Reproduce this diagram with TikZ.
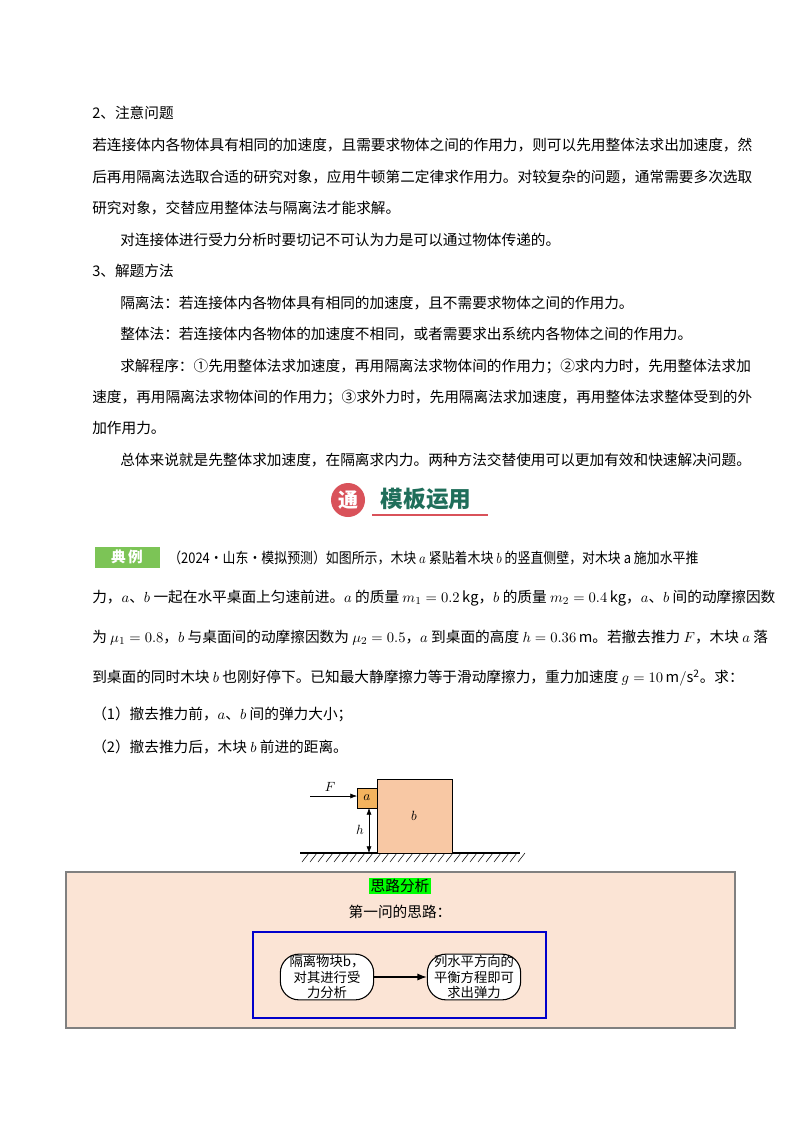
\documentclass[tikz,border=0pt]{standalone}
\usepackage{fontspec}
\setmainfont{Noto Sans CJK SC}
\usepackage{amsmath}
\usetikzlibrary{positioning,patterns,arrows.meta}
\definecolor{peach}{HTML}{FBE4D5}
\definecolor{blockb}{HTML}{F8C8A4}
\definecolor{blocka}{HTML}{F3B35E}
\definecolor{bannerred}{HTML}{D9525A}
\definecolor{bannergreen}{HTML}{1F6E5A}
\definecolor{badgegreen}{HTML}{7CC456}
\tikzset{
  line/.style={anchor=west, inner sep=0pt, font=\fontsize{11pt}{13pt}\selectfont},
  flowstep/.style={draw, thick, rounded corners=14pt, fill=white, align=center,
    minimum width=70pt, minimum height=34pt, inner sep=1pt,
    font=\fontsize{10pt}{11.5pt}\selectfont},
}
\begin{document}
\begin{tikzpicture}[x=0.75pt,y=-0.75pt]
\useasboundingbox[fill=white] (0,0) rectangle (800,1132);
	    % text lines
	    \node[line] (t1) at (92,113) {2、注意问题};
	    \node[line] (t2) at (92,145) {若连接体内各物体具有相同的加速度，且需要求物体之间的作用力，则可以先用整体法求出加速度，然};
	    \node[line] (t3) at (92,177) {后再用隔离法选取合适的研究对象，应用牛顿第二定律求作用力。对较复杂的问题，通常需要多次选取};
	    \node[line] (t4) at (92,208) {研究对象，交替应用整体法与隔离法才能求解。};
	    \node[line] (t5) at (120,240) {对连接体进行受力分析时要切记不可认为力是可以通过物体传递的。};
	    \node[line] (t6) at (92,271) {3、解题方法};
	    \node[line] (t7) at (120,303) {隔离法：若连接体内各物体具有相同的加速度，且不需要求物体之间的作用力。};
	    \node[line] (t8) at (120,334) {整体法：若连接体内各物体的加速度不相同，或者需要求出系统内各物体之间的作用力。};
	    \node[line] (t9) at (120,366) {求解程序：①先用整体法求加速度，再用隔离法求物体间的作用力；②求内力时，先用整体法求加};
	    \node[line] (t10) at (92,397) {速度，再用隔离法求物体间的作用力；③求外力时，先用隔离法求加速度，再用整体法求整体受到的外};
	    \node[line] (t11) at (92,428) {加作用力。};
	    \node[line] (t12) at (120,460) {总体来说就是先整体求加速度，在隔离求内力。两种方法交替使用可以更加有效和快速解决问题。};

	    % banner
	    \fill[bannerred] (348,500) circle (17);
	    \node[text=white, font=\bfseries\fontsize{15pt}{15pt}\selectfont] (tong) at (348,500) {通};
	    \node[text=bannergreen, font=\bfseries\fontsize{17pt}{17pt}\selectfont, anchor=west] (title) at (376,499) {模板运用};
	    \draw[bannerred, line width=1.5pt] (372,515) -- (488,515);

	    % example text
	    \fill[badgegreen] (95,547) rectangle (160,568);
	    \node[text=white, font=\bfseries\fontsize{11pt}{11pt}\selectfont] (badge) at (127,557) {典\,例};
	    \node[line] (e1) at (168,558) {\scalebox{0.88}[1]{（2024·山东·模拟预测）如图所示，木块 $a$ 紧贴着木块 $b$ 的竖直侧壁，对木块 a 施加水平推}};
	    \node[line] (e2) at (92,598) {力，$a$、$b$ 一起在水平桌面上匀速前进。$a$ 的质量 $m_1=0.2\,\mathrm{kg}$，$b$ 的质量 $m_2=0.4\,\mathrm{kg}$，$a$、$b$ 间的动摩擦因数};
	    \node[line] (e3) at (92,638) {为 $\mu_1=0.8$，$b$ 与桌面间的动摩擦因数为 $\mu_2=0.5$，$a$ 到桌面的高度 $h=0.36\,\mathrm{m}$。若撤去推力 $F$，木块 $a$ 落};
	    \node[line] (e4) at (92,678) {到桌面的同时木块 $b$ 也刚好停下。已知最大静摩擦力等于滑动摩擦力，重力加速度 $g=10\,\mathrm{m/s^2}$。求：};
	    \node[line] (q1) at (92,714) {（1）撤去推力前，$a$、$b$ 间的弹力大小；};
	    \node[line] (q2) at (92,747) {（2）撤去推力后，木块 $b$ 前进的距离。};

	    % blocks on the table
	    \draw[thick] (300,853) -- (520,853);
	    \foreach \x in {302,310,...,518} \draw (\x,862) -- (\x+7,853);
	    \draw[fill=blockb] (377,779) rectangle (452,853);
	    \node (b) at (414,816) {$b$};
	    \draw[fill=blocka] (357,788) rectangle (377,808);
	    \node (a) at (367,798) {$a$};
	    \coordinate (fstart) at (310,796);
	    \draw[-{Latex[length=5pt]}] (fstart) -- (357,796);
	    \node (F) at (330,787) {$F$};
	    \coordinate (htop) at (369,808);
	    \coordinate (hbot) at (369,853);
	    \draw[{Latex[length=5pt]}-{Latex[length=5pt]}] (htop) -- (hbot);
	    \node (h) at (360,830) {$h$};

	    % analysis box
	    \draw[gray, thick, fill=peach] (66,872) rectangle (735,1028);
	    \node[fill=green, inner sep=1pt, font=\fontsize{11pt}{11pt}\selectfont] (head) at (400,886) {思路分析};
	    \node[font=\fontsize{11pt}{11pt}\selectfont] (sub) at (400,912) {第一问的思路：};
	    \draw[blue!80!black, thick] (253,932) rectangle (546,1018);
	    \node[flowstep] (s1) at (327,977) {隔离物块b，\\对其进行受\\力分析};
	    \node[flowstep] (s2) at (474,977) {列水平方向的\\平衡方程即可\\求出弹力};
	    \draw[thick, -{Latex[length=7pt]}] (s1) -- (s2);
\end{tikzpicture}
\end{document}
